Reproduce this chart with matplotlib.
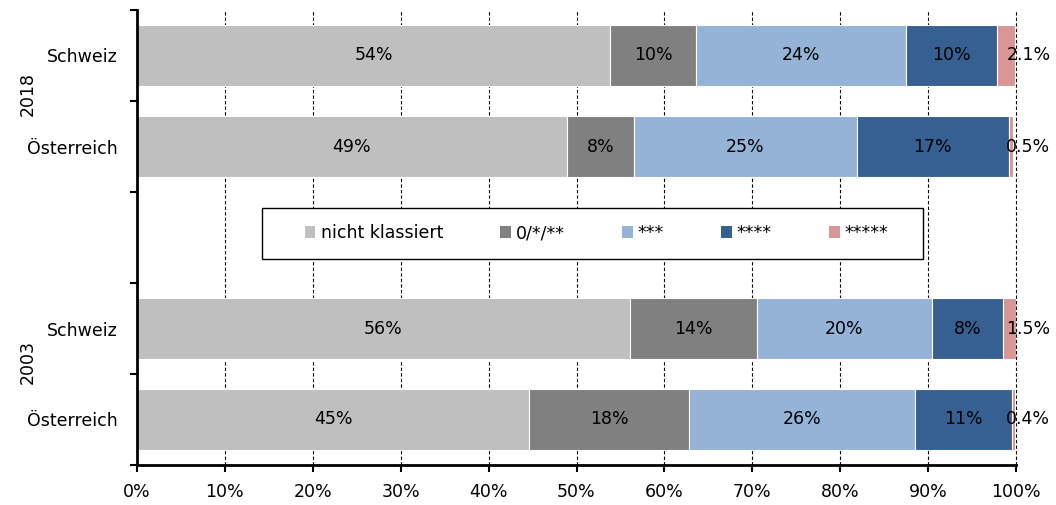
import matplotlib.pyplot as plt
from matplotlib.patches import Patch, Rectangle

plt.rcParams['font.family'] = ['DejaVu Sans']
FS = 12.5

# data (percent), rows top to bottom; empty gap row between the years
rows = ["Schweiz", "Österreich", "", "Schweiz", "Österreich"]
years = ["2018", "2003"]
categories = ["nicht klassiert", "0/*/**", "***", "****", "*****"]
colors = ["#BFBFBF", "#808080", "#95B3D7", "#376092", "#DA9694"]

nicht_klassiert = [53.8, 48.9, 0, 56.1, 44.6]
stern_0_2 = [9.8, 7.6, 0, 14.4, 18.2]
stern_3 = [23.9, 25.4, 0, 19.9, 25.7]
stern_4 = [10.3, 17.3, 0, 8.1, 11.0]
stern_5 = [2.1, 0.5, 0, 1.5, 0.4]
series = [nicht_klassiert, stern_0_2, stern_3, stern_4, stern_5]

fig = plt.figure(figsize=(10.56, 5.05), dpi=100)
ax = fig.add_axes([137/1056, 40/505, 879/1056, 455/505])

ypos = list(range(len(rows)))
left = [0] * len(rows)
for k, (vals, col) in enumerate(zip(series, colors)):
    ax.barh(ypos, vals, left=left, height=0.66, color=col, edgecolor="white",
            linewidth=0.8, zorder=3)
    for i, v in enumerate(vals):
        if v == 0:
            continue
        if k == len(series) - 1:
            ax.text(98.9, i, f"{v:.1f}%", ha="left", va="center", fontsize=FS, zorder=5)
        else:
            ax.text(left[i] + v / 2, i, f"{v:.0f}%", ha="center", va="center",
                    fontsize=FS, zorder=5)
    left = [a + b for a, b in zip(left, vals)]

ax.set_xlim(0, 100)
ax.set_ylim(len(rows) - 0.5, -0.5)
ax.set_xticks(range(0, 101, 10))
ax.set_xticklabels([f"{t}%" for t in range(0, 101, 10)], fontsize=FS)
ax.set_yticks([i - 0.5 for i in range(len(rows) + 1)])
ax.set_yticklabels([])
ax.set_yticks(ypos, minor=True)
ax.set_yticklabels(rows, minor=True, fontsize=FS)
ax.tick_params(axis="y", which="minor", length=0, pad=14)
ax.tick_params(axis="y", which="major", length=5, width=1.5, direction="out")
ax.tick_params(axis="x", length=5, width=1.5, direction="out", pad=8)

for s in ["top", "right"]:
    ax.spines[s].set_visible(False)
for s in ["left", "bottom"]:
    ax.spines[s].set_linewidth(2)
    ax.spines[s].set_zorder(7)

for t in range(10, 101, 10):
    ax.axvline(t, color="black", linewidth=0.8, linestyle=(0, (3, 2)), zorder=1,
               clip_on=False)

# year group labels
ax.text(-12.4, 0.42, years[0], rotation=90, ha="center", va="center", fontsize=FS,
        transform=ax.transData, clip_on=False)
ax.text(-12.4, 3.37, years[1], rotation=90, ha="center", va="center", fontsize=FS,
        transform=ax.transData, clip_on=False)

# legend box
ax.add_patch(Rectangle((14.2, 1.676), 75.2, 0.56, facecolor="white",
                       edgecolor="black", linewidth=1, zorder=4))
handles = [Patch(facecolor=c, edgecolor="none") for c in colors]
leg = ax.legend(handles, categories, ncol=5, loc="center",
                bbox_to_anchor=(52.3, 1.956), bbox_transform=ax.transData,
                frameon=False, fontsize=FS, handlelength=0.6, handleheight=0.7,
                handletextpad=0.3, columnspacing=3.3)
leg.set_zorder(6)

fig.savefig("out.png", dpi=100)
